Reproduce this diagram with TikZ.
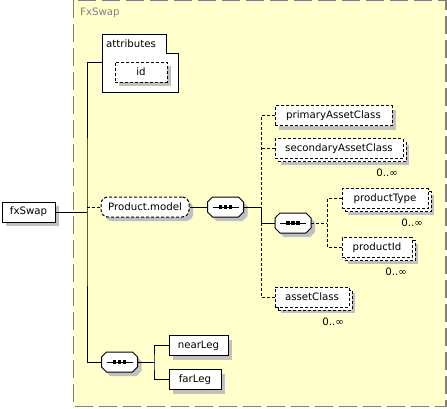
\documentclass[tikz,border=0pt]{standalone}
\usepackage{fontspec}
\setmainfont{DejaVu Sans}
\usetikzlibrary{shadows}
\definecolor{bgyellow}{RGB}{255,255,204}
\definecolor{framegray}{RGB}{128,128,128}
\definecolor{shadegray}{RGB}{192,192,192}
\tikzset{
  every node/.style={font=\fontsize{10.2}{12}\selectfont, inner sep=0pt},
  wire/.style={line width=1pt},
  optdash/.style={dash pattern=on 3pt off 2pt},
  elbox/.style={draw, fill=white, line width=1pt, minimum height=20pt,
    drop shadow={shadow xshift=4pt, shadow yshift=-4pt, fill=shadegray, opacity=1}},
  optbox/.style={elbox, optdash},
  grpbox/.style={elbox, optdash, rounded corners=7pt},
  multibox/.style={draw, fill=white, line width=1pt, minimum height=20pt, optdash,
    drop shadow={shadow xshift=6pt, shadow yshift=-6pt, fill=shadegray, opacity=1},
    copy shadow={shadow xshift=3pt, shadow yshift=-3pt, draw=black, fill=white,
      line width=1pt, dash pattern=on 3pt off 2pt}},
  occ/.style={anchor=east},
  seqbox/.style={minimum width=36pt, minimum height=20pt},
}
% octagon of a sequence group, centred at (#2,#3)
\def\octa{(-13,-10) -- (13,-10) -- (18,-5) -- (18,5) -- (13,10) -- (-13,10) -- (-18,5) -- (-18,-5) -- cycle}
\newcommand\seqgroup[3]{%
  \fill[shadegray, shift={(#2+4,#3+4)}] \octa;
  \draw[line width=1pt, fill=white, shift={(#2,#3)}] \octa;
  \draw[line width=1pt, shift={(#2,#3)}] (-13,0) -- (13,0);
  \foreach \dx in {-5,0,5}
    \fill[shift={(#2+\dx,#3)}] (-1.7,-1.7) rectangle (1.7,1.7);
  \node[seqbox] (#1) at (#2,#3) {};
}
\begin{document}
\begin{tikzpicture}[x=1pt,y=-1pt]
  \useasboundingbox (0,0) rectangle (447,408);
  % frame of the complex type
  \draw[fill=bgyellow, draw=framegray, line width=1.5pt, dash pattern=on 18pt off 6pt]
    (73.5,0) rectangle (446,406.5);
  \node[anchor=west, text=framegray] (title) at (80,13) {FxSwap};

  % attributes
  \draw[fill=white, line width=1pt] (102,34) -- (166,34) -- (166,53) -- (178,53)
    -- (178,92) -- (102,92) -- cycle;
  \node[anchor=west] (attrs) at (106,44) {attributes};
  \node[optbox, minimum width=52pt] (id) at (141,72) {id};
  \coordinate (attrL) at (102,62);

  % elements
  \node[elbox, minimum width=53pt] (fxSwap) at (28.5,212) {fxSwap};
  \node[grpbox, minimum width=88pt] (pm) at (145,207) {Product.model};
  \seqgroup{s1}{225.5}{207}
  \node[optbox, minimum width=117pt] (pac) at (333.5,115.5) {primaryAssetClass};
  \node[multibox, minimum width=128pt] (sac) at (339,148.5) {secondaryAssetClass};
  \seqgroup{s2}{293}{223}
  \node[multibox, minimum width=86pt] (pt) at (385,198.5) {productType};
  \node[multibox, minimum width=70pt] (pid) at (377,247.5) {productId};
  \node[multibox, minimum width=74pt] (ac) at (312,297) {assetClass};
  \seqgroup{s3}{119.5}{362}
  \node[elbox, minimum width=59pt] (near) at (198.5,345.5) {nearLeg};
  \node[elbox, minimum width=52pt] (far) at (195,379.5) {farLeg};

  % occurrences
  \node[occ] (sacN) at ([xshift=-5.5pt,yshift=-14pt]sac.south east) {0..∞};
  \node[occ] (ptN) at ([xshift=-5.5pt,yshift=-14pt]pt.south east) {0..∞};
  \node[occ] (pidN) at ([xshift=-5.5pt,yshift=-14pt]pid.south east) {0..∞};
  \node[occ] (acN) at ([xshift=-5.5pt,yshift=-14pt]ac.south east) {0..∞};

  % connectors
  \coordinate (jA) at (87,212);
  \draw[wire] (fxSwap) -- (jA);
  \draw[wire] (attrL) -| (jA) |- (s3);
  \draw[wire, optdash] (pm.west -| jA) -- (pm);
  \draw[wire] (pm) -- (s1);

  \coordinate (jB) at (261,207);
  \draw[wire] (s1) -- (jB) |- (s2);
  \draw[wire, optdash] (pac) -| (jB);
  \draw[wire, optdash] (sac.west) -- (sac.west -| jB);
  \draw[wire, optdash] (ac) -| (jB |- s2);

  \coordinate (jC) at (327,223);
  \draw[wire, optdash] (s2) -- (jC);
  \draw[wire, optdash] (pt) -| (jC) |- (pid);

  \coordinate (jD) at (154,362);
  \draw[wire] (s3) -- (jD);
  \draw[wire] (near) -| (jD) |- (far);
\end{tikzpicture}
\end{document}
